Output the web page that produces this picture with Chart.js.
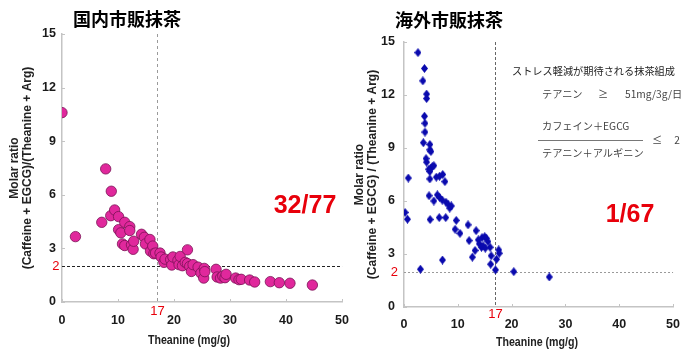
<!DOCTYPE html>
<html>
<head>
<meta charset="utf-8">
<script src="https://cdn.jsdelivr.net/npm/chart.js@4.4.1/dist/chart.umd.min.js"></script>
<style>
  html, body { margin: 0; padding: 0; background: #fff; }
  #wrap { position: relative; width: 690px; height: 353px; overflow: hidden; }
  canvas { position: absolute; top: 0; }
  #cL { left: 0; }
  #cR { left: 345px; }
  .t { position: absolute; white-space: nowrap; line-height: 1; transform: translate(-50%, -50%); }
  .l { position: absolute; white-space: nowrap; line-height: 1; transform: translate(0, -50%); }
  .ttl { font: bold 18px "Noto Sans CJK JP", sans-serif; color: #000; }
  .cnt { font: bold 25px "Liberation Sans", Arial, sans-serif; color: #e8000b; }
  .xt { font: bold 12.5px "Liberation Sans", Arial, sans-serif; color: #222; transform: translate(-50%, -50%) scaleX(0.85); }
  .jp { font: 10.2px "Noto Sans CJK JP", sans-serif; color: #444; }
  #bar { position: absolute; left: 538px; top: 140px; width: 105px; height: 0; border-top: 1px solid #777; }
</style>
</head>
<body>
<div id="wrap">
  <canvas id="cL" width="360" height="353"></canvas>
  <canvas id="cR" width="345" height="353"></canvas>

  <div class="t ttl" style="left:127px;top:18px">国内市販抹茶</div>
  <div class="t ttl" style="left:449px;top:19px">海外市販抹茶</div>
  <div class="t cnt" style="left:305px;top:204px">32/77</div>
  <div class="t cnt" style="left:630px;top:213px">1/67</div>
  <div class="t xt" style="left:189px;top:340px">Theanine (mg/g)</div>
  <div class="t xt" style="left:537px;top:342px">Theanine (mg/g)</div>

  <div class="l jp" style="left:512px;top:70px;color:#222">ストレス軽減が期待される抹茶組成</div>
  <div class="l jp" style="left:542px;top:93px">テアニン</div>
  <div class="t jp" style="left:603px;top:93px">≥</div>
  <div class="l jp" style="left:625px;top:93px">51mg/3g/日</div>
  <div class="l jp" style="left:542px;top:125px">カフェイン＋EGCG</div>
  <div id="bar"></div>
  <div class="l jp" style="left:542px;top:152px">テアニン＋アルギニン</div>
  <div class="t jp" style="left:657px;top:139px">≤</div>
  <div class="t jp" style="left:677px;top:139px">2</div>
</div>

<script>
// 軸の目盛り
const xTicks = [0, 10, 20, 30, 40, 50];
const yTicks = [0, 3, 6, 9, 12, 15];
// 基準線(テアニン17mg/g, モル比2)
const THEANINE_LIMIT = 17;
const RATIO_LIMIT = 2;

// 国内市販抹茶 (x: Theanine mg/g, y: モル比)
const domesticTheanine = [
  0, 2.4, 7.1, 7.8, 8.7, 8.8, 9.4, 10.1, 10.1, 10.5, 10.8, 11.2, 11.2, 12.1, 12.1, 12.4,
  12.7, 12.8, 14.2, 14.7, 14.9, 15.7, 15.8, 16.2, 16.4, 16.7, 17.5, 17.7, 18.2, 18.4, 19.4,
  19.6, 19.8, 20.7, 20.9, 21.1, 21.5, 22.0, 22.4, 22.4, 22.8, 23.1, 23.4, 24.3, 24.8, 25.3,
  25.4, 25.5, 27.5, 27.7, 28.3, 28.7, 29.1, 29.3, 31.0, 31.6, 32.0, 33.5, 34.4, 37.2, 38.8,
  40.7, 44.7
];
const domesticRatio = [
  10.6, 3.66, 4.46, 7.45, 4.83, 6.2, 5.15, 4.78, 4.05, 3.87, 3.25, 4.46, 3.16, 4.22, 4.0, 3.2,
  2.95, 3.4, 3.79, 3.62, 3.25, 3.5, 2.85, 3.13, 2.7, 2.74, 2.74, 2.52, 2.22, 2.4, 2.37,
  2.07, 2.52, 2.33, 2.09, 2.55, 2.03, 2.22, 2.92, 2.15, 1.99, 1.71, 2.09, 1.95, 1.62, 1.34,
  1.88, 1.7, 1.83, 1.4, 1.34, 1.45, 1.36, 1.55, 1.34, 1.25, 1.27, 1.23, 1.12, 1.14, 1.08,
  1.05, 0.95
];

// 海外市販抹茶
const overseasTheanine = [
  2.6, 3.8, 3.5, 4.2, 4.2, 3.8, 3.9, 3.9, 3.6, 4.8, 4.8, 5.0, 4.1, 4.2, 4.6, 4.95, 5.25,
  5.55, 0.8, 4.8, 4.8, 6.0, 6.6, 7.2, 7.6, 4.65, 5.55, 6.2, 6.6, 7.1, 7.8, 8.2, 8.5, 8.8,
  0.2, 0.65, 4.85, 6.55, 7.75, 9.7, 9.5, 10.4, 11.9, 12.1, 13.4, 13.8, 14.5, 15.0, 15.3,
  15.6, 14.0, 14.4, 14.7, 15.1, 16.0, 13.2, 12.7, 7.15, 16.2, 16.1, 17.0, 17.2, 17.6, 17.7,
  3.05, 20.4, 27.0
];
const overseasRatio = [
  14.4, 13.5, 12.8, 12.05, 11.8, 10.8, 10.4, 9.9, 9.3, 9.2, 8.9, 8.8, 8.4, 8.2, 7.8, 7.85, 7.95,
  8.0, 7.3, 7.25, 7.67, 7.35, 7.4, 7.5, 7.1, 6.3, 6.0, 6.35, 6.2, 6.05, 5.93, 5.82, 5.6, 5.72,
  5.35, 4.97, 4.95, 5.06, 5.06, 4.9, 4.4, 4.17, 4.65, 3.76, 4.32, 3.8, 3.93, 3.98, 3.89,
  3.7, 3.57, 3.38, 3.46, 3.33, 3.38, 3.2, 2.82, 2.66, 2.9, 2.42, 2.1, 2.7, 3.23, 3.04,
  2.14, 2.0, 1.7
];

const SANS = '"Liberation Sans", Arial, sans-serif';
const AXIS_GRAY = '#c4c4c4';

// 青いひし形マーカー(縦長)
function diamond(w, h, color) {
  const c = document.createElement('canvas');
  c.width = w; c.height = h;
  const g = c.getContext('2d');
  g.fillStyle = color;
  g.beginPath();
  g.moveTo(w / 2, 0); g.lineTo(w, h / 2); g.lineTo(w / 2, h); g.lineTo(0, h / 2);
  g.closePath(); g.fill();
  return c;
}

// 内向きの目盛り線・基準の破線・赤い「2」「17」
const guidePlugin = {
  id: 'guides',
  beforeDatasetsDraw(chart, args, o) {
    const { ctx, chartArea: a, scales: { x, y } } = chart;
    ctx.save();
    ctx.strokeStyle = AXIS_GRAY;
    ctx.lineWidth = 1;
    for (const v of xTicks) {
      const px = Math.round(x.getPixelForValue(v)) + 0.5;
      ctx.beginPath(); ctx.moveTo(px, a.bottom); ctx.lineTo(px, a.bottom - 3); ctx.stroke();
    }
    for (const v of yTicks) {
      const py = Math.round(y.getPixelForValue(v)) + 0.5;
      ctx.beginPath(); ctx.moveTo(a.left, py); ctx.lineTo(a.left + 3, py); ctx.stroke();
    }

    const py = Math.round(y.getPixelForValue(RATIO_LIMIT)) + 0.5;
    const px = Math.round(x.getPixelForValue(THEANINE_LIMIT)) + 0.5;
    ctx.setLineDash(o.hDash);
    ctx.strokeStyle = o.hColor;
    ctx.beginPath(); ctx.moveTo(a.left, py); ctx.lineTo(a.right, py); ctx.stroke();
    ctx.setLineDash(o.vDash);
    ctx.strokeStyle = o.vColor;
    ctx.beginPath(); ctx.moveTo(px, a.top); ctx.lineTo(px, a.bottom); ctx.stroke();

    ctx.setLineDash([]);
    ctx.fillStyle = '#e8000b';
    ctx.font = '13px ' + SANS;
    ctx.textBaseline = 'middle';
    ctx.textAlign = 'right';
    ctx.fillText(String(RATIO_LIMIT), a.left - o.twoGap, py);
    ctx.textAlign = 'center';
    ctx.fillText(String(THEANINE_LIMIT), px, a.bottom + o.lowGap);
    ctx.restore();
  }
};

function makeScatter(id, xs, ys, { point, yTitle, yWidth, xHeight, pad, tickPadX, tickPadY, guides }) {
  const ctx = document.getElementById(id).getContext('2d');
  return new Chart(ctx, {
    type: 'scatter',
    data: {
      datasets: [Object.assign({ data: xs.map((v, i) => ({ x: v, y: ys[i] })) }, point)]
    },
    plugins: [guidePlugin],
    options: {
      responsive: false,
      animation: false,
      events: [],
      layout: { padding: pad },
      scales: {
        x: {
          type: 'linear', min: 0, max: 50,
          afterBuildTicks: (s) => { s.ticks = xTicks.map(v => ({ value: v })); },
          afterFit: (s) => { s.height = xHeight; },
          grid: { display: false, drawTicks: false },
          border: { color: AXIS_GRAY, width: 1.5 },
          ticks: { padding: tickPadX, color: '#1a1a1a', font: { family: SANS, size: 12.5, weight: 'bold' } }
        },
        y: {
          type: 'linear', min: 0, max: 15,
          afterBuildTicks: (s) => { s.ticks = yTicks.map(v => ({ value: v })); },
          afterFit: (s) => { s.width = yWidth; },
          grid: { display: false, drawTicks: false },
          border: { color: AXIS_GRAY, width: 1.5 },
          ticks: { padding: tickPadY, color: '#1a1a1a', font: { family: SANS, size: 12.5, weight: 'bold' } },
          title: {
            display: true, text: yTitle, color: '#222',
            padding: { top: 8.7 },
            font: { family: SANS, size: 12, weight: 'bold', lineHeight: 1.05 }
          }
        }
      },
      plugins: {
        legend: { display: false },
        tooltip: { enabled: false },
        guides: guides
      }
    }
  });
}

makeScatter('cL', domesticTheanine, domesticRatio, {
  point: {
    pointStyle: 'circle', pointRadius: 5.2,
    backgroundColor: '#e0289c', borderColor: '#7a1356', borderWidth: 0.8
  },
  yTitle: ['Molar ratio', '(Caffeine + EGCG)/(Theanine + Arg)'],
  yWidth: 62, xHeight: 51,
  pad: { top: 34, right: 14, left: 0, bottom: 0 },
  tickPadX: 11, tickPadY: 6,
  guides: { hDash: [3, 2], hColor: '#222', vDash: [3, 3], vColor: '#9a9a9a', twoGap: 2.5, lowGap: 9.5 }
});

makeScatter('cR', overseasTheanine, overseasRatio, {
  point: { pointStyle: diamond(7, 9, '#0a0aae'), pointRadius: 4.5 },
  yTitle: ['Molar ratio', '(Caffeine + EGCG) / (Theanine + Arg)'],
  yWidth: 59, xHeight: 46,
  pad: { top: 42, right: 7, left: 0, bottom: 0 },
  tickPadX: 10, tickPadY: 9,
  guides: { hDash: [2, 2], hColor: '#9a9a9a', vDash: [3, 2], vColor: '#666', twoGap: 6, lowGap: 7.5 }
});
</script>
</body>
</html>
